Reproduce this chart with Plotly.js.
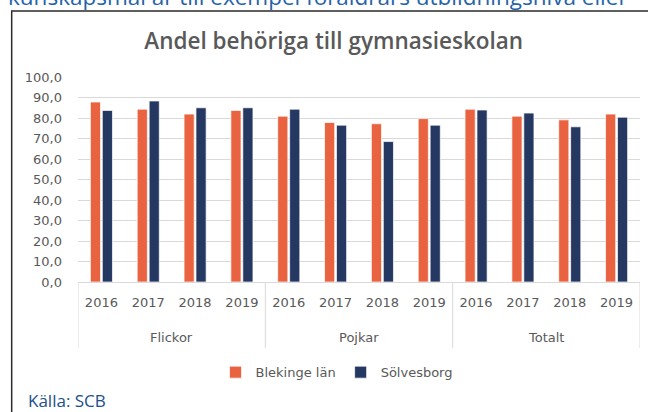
<!DOCTYPE html>
<html>
<head>
<meta charset="utf-8">
<script src="https://cdn.plot.ly/plotly-3.0.1.min.js"></script>
<style>
html,body{margin:0;padding:0;background:#fff;}
#chart{width:648px;height:412px;}
</style>
</head>
<body>
<div id="chart"></div>
<script>
const groups = ["Flickor","Flickor","Flickor","Flickor","Pojkar","Pojkar","Pojkar","Pojkar","Totalt","Totalt","Totalt","Totalt"];
const years = ["2016","2017","2018","2019","2016","2017","2018","2019","2016","2017","2018","2019"];
const blekinge = [87.8, 84.3, 81.9, 83.7, 80.9, 77.8, 77.2, 79.7, 84.3, 80.9, 79.1, 81.9];
const solvesborg = [83.7, 88.3, 85.0, 85.0, 84.3, 76.5, 68.5, 76.5, 83.9, 82.4, 75.7, 80.4];
const seriesNames = ["Blekinge län", "Sölvesborg"];
const yTicks = [0,10,20,30,40,50,60,70,80,90,100];

const fontFam = "DejaVu Sans, Verdana, sans-serif";
const gray = "#595959";
const idx = years.map((_, i) => i);

const traces = [
  {type:"bar", name:seriesNames[0], x:idx, y:blekinge,
   marker:{color:"#EA6341", line:{color:"rgba(255,255,255,0.7)", width:1}}},
  {type:"bar", name:seriesNames[1], x:idx, y:solvesborg,
   marker:{color:"#243861", line:{color:"rgba(255,255,255,0.7)", width:1}}}
];

// group spans derived from the category list
const uniqueGroups = [...new Set(groups)];
const spans = uniqueGroups.map(g => {
  const ii = idx.filter(i => groups[i] === g);
  return {name:g, start:Math.min(...ii) - 0.5, end:Math.max(...ii) + 0.5, mid:(Math.min(...ii) + Math.max(...ii)) / 2};
});
const boundaries = [spans[0].start, ...spans.map(s => s.end)];

const shapes = [
  {type:"rect", xref:"paper", yref:"paper", x0:-0.118, x1:1.05, y0:-0.7, y1:1.322,
   line:{color:"#2b2b2b", width:1.5}, fillcolor:"rgba(0,0,0,0)", layer:"below"}
];
boundaries.forEach(b => shapes.push({type:"line", xref:"x", yref:"paper", x0:b, x1:b, y0:0, y1:-0.322,
  line:{color:"#D9D9D9", width:1}}));

const annotations = [
  {xref:"paper", yref:"paper", x:-0.093, y:-0.645, xanchor:"left", yanchor:"bottom", showarrow:false,
   text:"Källa: SCB", font:{family:"Open Sans, sans-serif", size:17, color:"#204F8A"}},
  {xref:"paper", yref:"paper", x:-0.128, y:1.305, xanchor:"left", yanchor:"bottom", showarrow:false,
   text:"kunskapsmål är till exempel föräldrars utbildningsnivå eller", font:{family:"Open Sans, sans-serif", size:22.5, color:"#2563A8"}}
];
spans.forEach(s => annotations.push({xref:"x", yref:"paper", x:s.mid, y:-0.273, xanchor:"center", yanchor:"middle",
  showarrow:false, text:s.name, font:{family:fontFam, size:13, color:gray}}));

const layout = {
  width:648, height:412,
  margin:{l:78, r:8, t:77, b:130, pad:0},
  paper_bgcolor:"#fff", plot_bgcolor:"#fff",
  separators:", ",
  barmode:"group", bargap:0.49, bargroupgap:0.15,
  title:{text:"Andel behöriga till gymnasieskolan", x:0.515, xanchor:"center", y:0.9, yanchor:"middle",
         font:{family:"Open Sans, sans-serif", size:22.5, color:gray, weight:600}},
  font:{family:fontFam, color:gray, size:13},
  xaxis:{type:"linear", range:[-0.5, 11.5], tickvals:idx, ticktext:years, showgrid:false, zeroline:false,
         showline:true, linecolor:"#D9D9D9", linewidth:1, ticks:"", ticklabelstandoff:8,
         tickfont:{family:fontFam, size:13, color:gray}, fixedrange:true},
  yaxis:{range:[0,100], tickvals:yTicks, tickformat:".1f", showgrid:true, gridcolor:"#D9D9D9", gridwidth:1,
         zeroline:false, showline:false, ticks:"", tickfont:{family:fontFam, size:13, color:gray},
         ticklabelstandoff:15, fixedrange:true},
  showlegend:true,
  legend:{orientation:"h", x:0.46, xanchor:"center", y:-0.44, yanchor:"middle",
          font:{family:fontFam, size:13, color:gray}, itemwidth:30, traceorder:"normal"},
  shapes:shapes,
  annotations:annotations
};

Plotly.newPlot("chart", traces, layout, {displayModeBar:false, staticPlot:true});
</script>
</body>
</html>
